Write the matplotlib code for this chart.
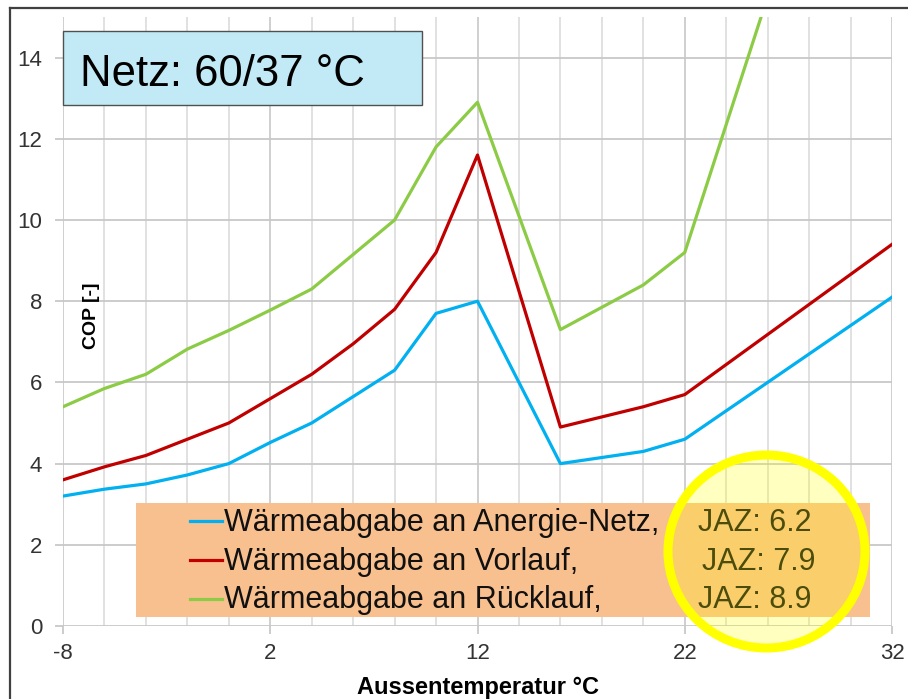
import matplotlib.pyplot as plt
import numpy as np
from matplotlib.patches import Rectangle, Ellipse
from matplotlib.lines import Line2D

plt.rcParams['font.family'] = ['Liberation Sans', 'DejaVu Sans']
plt.rcParams['axes.unicode_minus'] = False

# Außentemperatur [°C]
temps = [-8, -6, -4, -2, 0, 2, 4, 6, 8, 10, 12, 16, 20, 22, 32]
temps_green = [-8, -6, -4, -2, 0, 2, 4, 6, 8, 10, 12, 16, 20, 22, 26]

# COP values
cop_netz = [3.2, 3.37, 3.5, 3.72, 4.0, 4.52, 5.0, 5.65, 6.3, 7.7, 8.0, 4.0, 4.3, 4.6, 8.1]
cop_vorlauf = [3.6, 3.92, 4.2, 4.6, 5.0, 5.6, 6.2, 6.95, 7.8, 9.2, 11.6, 4.9, 5.4, 5.7, 9.4]
cop_ruecklauf = [5.4, 5.85, 6.2, 6.82, 7.28, 7.78, 8.3, 9.15, 10.0, 11.8, 12.9, 7.3, 8.4, 9.2, 15.5]

labels = ['Wärmeabgabe an Anergie-Netz,', 'Wärmeabgabe an Vorlauf,', 'Wärmeabgabe an Rücklauf,']
jaz = ['JAZ: 6.2', 'JAZ: 7.9', 'JAZ: 8.9']
colors = ['#00B0F0', '#C00000', '#8CCB45']

W, H = 908, 699


def fx(x):
    return x / W


def fy(y):
    return 1 - y / H


fig = plt.figure(figsize=(9.08, 6.99), dpi=100)
ax = fig.add_axes([fx(63), fy(626), fx(892) - fx(63), fy(17) - fy(626)])

ax.plot(temps, cop_netz, color=colors[0], lw=2.3, zorder=3)
ax.plot(temps, cop_vorlauf, color=colors[1], lw=2.3, zorder=3)
ax.plot(temps_green, cop_ruecklauf, color=colors[2], lw=2.3, zorder=3)

ax.set_xlim(-8, 32)
ax.set_ylim(0, 15)
ax.set_xticks([-8, 2, 12, 22, 32])
ax.set_xticks(np.arange(-8, 33, 2), minor=True)
ax.set_yticks(np.arange(0, 15, 2))
for s in ax.spines.values():
    s.set_visible(False)

ax.grid(True, axis='y', color='#c8c8c8', lw=1.3)
ax.grid(True, axis='x', which='minor', color='#dcdcdc', lw=1.2)
ax.grid(True, axis='x', which='major', color='#cccccc', lw=1.3)
ax.set_axisbelow(True)
ax.tick_params(axis='both', which='major', length=6, width=1.2, color='#c4c4c4',
               labelsize=16, labelcolor='#333333')
ax.tick_params(axis='y', pad=9)
ax.tick_params(axis='x', pad=6)
ax.tick_params(axis='x', which='minor', length=0)

# axis titles
fig.text(fx(92), fy(316), 'COP [-]', rotation=90, ha='center', va='center',
         fontsize=14, fontweight='bold')
fig.text(fx(478), fy(694), 'Aussentemperatur °C', ha='center', va='baseline',
         fontsize=17, fontweight='bold')

# outer border
fig.add_artist(Line2D([fx(10), fx(10)], [0, fy(8)], color='#404040', lw=1.6))
fig.add_artist(Line2D([fx(10), 1], [fy(8), fy(8)], color='#404040', lw=1.6))

# title box
fig.add_artist(Rectangle((fx(63), fy(105)), fx(422) - fx(63), fy(31) - fy(105),
                         transform=fig.transFigure, facecolor='#C2EAF6',
                         edgecolor='#505050', lw=1.0, zorder=5))
fig.text(fx(80), fy(86), 'Netz: 60/37 °C', ha='left', va='baseline',
         fontsize=31.5, zorder=6)

# legend box
fig.add_artist(Rectangle((fx(136), fy(617)), fx(870) - fx(136), fy(503) - fy(617),
                         transform=fig.transFigure, facecolor='#F9C08F',
                         edgecolor='none', zorder=5))
line_y = [521, 560, 599]
text_y = [531, 570, 608]
jaz_x = [698, 702, 698]
for i in range(3):
    fig.add_artist(Line2D([fx(190), fx(222)], [fy(line_y[i]), fy(line_y[i])],
                          color=colors[i], lw=2.3, zorder=6))
    fig.text(fx(224), fy(text_y[i]), labels[i], ha='left', va='baseline',
             fontsize=22, color='#111111', zorder=6)
    fig.text(fx(jaz_x[i]), fy(text_y[i]), jaz[i], ha='left', va='baseline',
             fontsize=22, color='#111111', zorder=6)

# highlight circle
fig.add_artist(Ellipse((fx(766.5), fy(551.5)), fx(197), 193 / H,
                       transform=fig.transFigure, facecolor=(1, 1, 0, 0.25),
                       edgecolor='#FFFF00', lw=6.5, zorder=7))

fig.savefig('out.png', dpi=100)
